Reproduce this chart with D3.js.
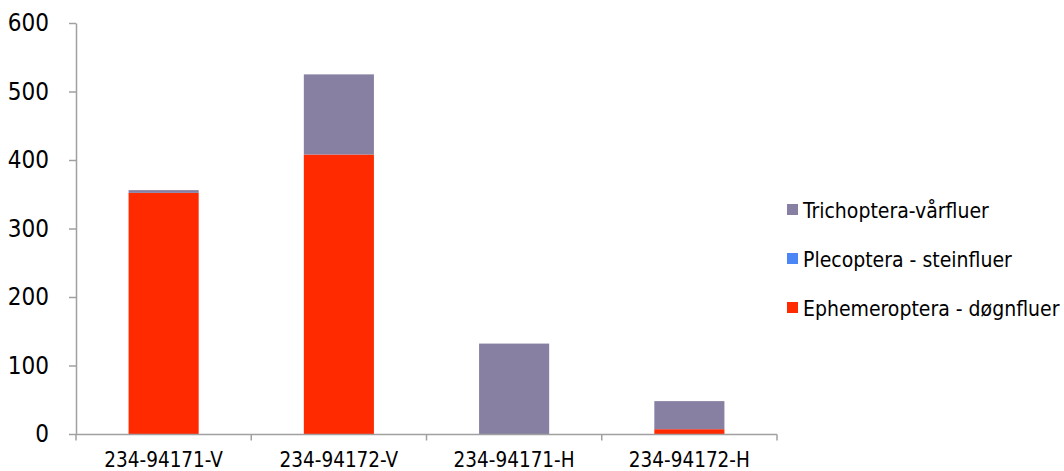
<!DOCTYPE html>
<html><head><meta charset="utf-8">
<script src="https://cdn.jsdelivr.net/npm/d3@7"></script>
<style>
body{margin:0;background:#fff;}
svg text{font-family:"DejaVu Sans Condensed","DejaVu Sans",sans-serif;fill:#000;}
</style></head>
<body><svg id="c" width="1064" height="471"></svg>
<script>
const categories = ["234-94171-V","234-94172-V","234-94171-H","234-94172-H"];
const seriesNames = ["Ephemeroptera - døgnfluer","Plecoptera - steinfluer","Trichoptera-vårfluer"];
const ephemeroptera = [352, 408, 0, 7];
const plecoptera = [0, 0, 0, 0];
const trichoptera = [4, 117, 132, 41];
const yTicks = [0,100,200,300,400,500,600];
const colors = ["#FF2A00","#4A86F5","#8780A3"];

const rows = categories.map((c,i)=>({cat:c,
  [seriesNames[0]]:ephemeroptera[i],[seriesNames[1]]:plecoptera[i],[seriesNames[2]]:trichoptera[i]}));
const stack = d3.stack().keys(seriesNames)(rows);

const svg = d3.select("#c");
const x = d3.scaleBand().domain(categories).range([76,777]).paddingInner(0.6).paddingOuter(0.3);
const y = d3.scaleLinear().domain([0,600]).range([434,23]);
const color = d3.scaleOrdinal().domain(seriesNames).range(colors);

svg.append("g").selectAll("g").data(stack).join("g")
  .attr("fill",d=>color(d.key))
  .selectAll("rect").data(d=>d).join("rect")
  .attr("x",d=>x(d.data.cat))
  .attr("width",x.bandwidth())
  .attr("y",d=>y(d[1]))
  .attr("height",d=>y(d[0])-y(d[1]));

// y axis
const ya = svg.append("g").attr("transform","translate(76,0)")
  .call(d3.axisLeft(y).tickValues(yTicks).tickSize(7).tickSizeOuter(0).tickPadding(20));
ya.select(".domain").attr("stroke","#A0A0A0").attr("stroke-width",1.5);
ya.selectAll(".tick line").attr("stroke","#A0A0A0").attr("stroke-width",1.5);
ya.selectAll("text").attr("font-size",24).attr("fill","#000").attr("font-family","DejaVu Sans Condensed");

// x axis
const xa = svg.append("g").attr("transform","translate(0,434.5)");
xa.append("line").attr("x1",76).attr("x2",777).attr("stroke","#A0A0A0").attr("stroke-width",1.5);
const bounds = d3.range(categories.length+1).map(i=>76 + i*(701/categories.length));
xa.selectAll(".tk").data(bounds).join("line").attr("class","tk")
  .attr("x1",d=>d).attr("x2",d=>d).attr("y1",0).attr("y2",6)
  .attr("stroke","#A0A0A0").attr("stroke-width",1.5);
xa.selectAll(".lbl").data(categories).join("text").attr("class","lbl")
  .attr("x",d=>x(d)+x.bandwidth()/2).attr("y",32)
  .attr("text-anchor","middle").attr("font-size",20.5).text(d=>d);

// legend
const legOrder = [seriesNames[2],seriesNames[1],seriesNames[0]];
const leg = svg.append("g");
legOrder.forEach((k,i)=>{
  const cy = 210 + i*49;
  leg.append("rect").attr("x",787).attr("y",cy-6).attr("width",11).attr("height",11).attr("fill",color(k));
  leg.append("text").attr("x",803).attr("y",cy).attr("dy","0.36em").attr("font-size",21).text(k);
});
</script></body></html>
